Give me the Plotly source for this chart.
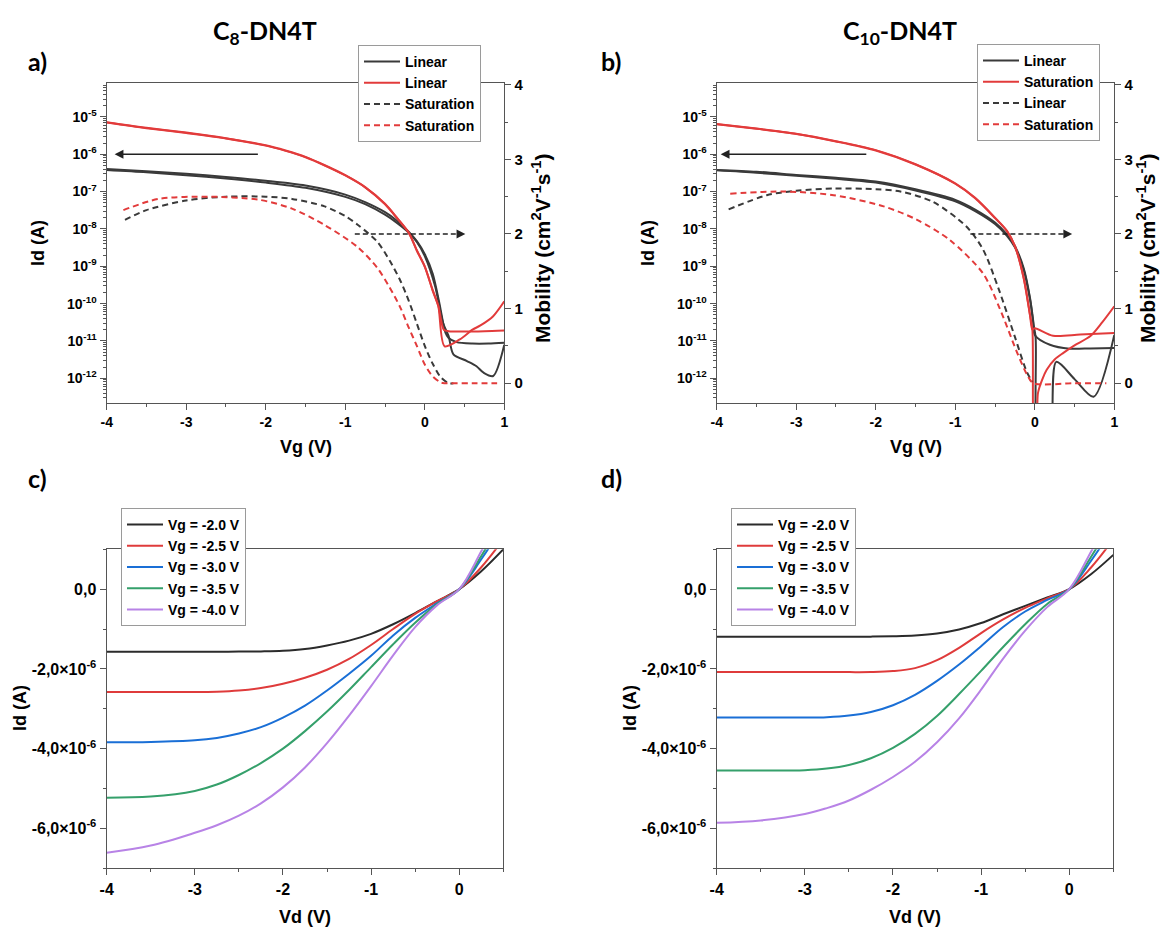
import plotly.graph_objects as go

W, H = 1162, 929
FONT = "Liberation Sans"
TITLE_FONT = "Lato"
AX = "#555555"
DARK = "#3a3a3a"
RED = "#e23b3b"

# ---------------- panel a (C8-DN4T), transfer curves ----------------
A_LIN1_VG = [-4, -3.5, -3, -2.5, -2, -1.5, -1, -0.75, -0.5, -0.35, -0.2, -0.1, 0, 0.1, 0.18, 0.26, 0.3, 0.4, 0.6, 0.8, 1.0]
A_LIN1_ID = [4.0e-7, 3.5e-7, 3.0e-7, 2.45e-7, 1.95e-7, 1.45e-7, 8.3e-8, 5.2e-8, 2.8e-8, 1.66e-8, 8.3e-9, 4.7e-9,
             2.1e-9, 6.3e-10, 1.12e-10, 1.66e-11, 1.2e-11, 9.3e-12, 8.5e-12, 8.5e-12, 8.9e-12]
A_LIN2_VG = [-4, -3.5, -3, -2.5, -2, -1.5, -1, -0.75, -0.5, -0.35, -0.2, -0.1, 0, 0.13, 0.23, 0.3, 0.36, 0.53, 0.65, 0.74, 0.86, 1.0]
A_LIN2_ID = [3.8e-7, 3.3e-7, 2.75e-7, 2.24e-7, 1.74e-7, 1.26e-7, 7.2e-8, 4.6e-8, 2.4e-8, 1.45e-8, 7.9e-9, 4.5e-9,
             1.86e-9, 2.9e-10, 3.0e-11, 1.35e-11, 4.4e-12, 2.9e-12, 2.1e-12, 1.41e-12, 1.15e-12, 7.9e-12]
A_SAT1_VG = [-4, -3.5, -3, -2.5, -2, -1.75, -1.5, -1.25, -1, -0.75, -0.5, -0.35, -0.2, -0.1, 0, 0.1, 0.17, 0.25,
             0.44, 0.6, 0.7, 0.86, 1.0]
A_SAT1_ID = [7.2e-6, 5.1e-6, 3.8e-6, 2.7e-6, 1.74e-6, 1.26e-6, 8.5e-7, 5.0e-7, 2.75e-7, 1.32e-7, 4.7e-8, 2.0e-8,
             7.9e-9, 2.7e-9, 1.0e-9, 2.2e-10, 8.5e-11, 7.2e-12, 1.1e-11, 2.0e-11, 2.6e-11, 4.6e-11, 1.15e-10]
A_SAT2_VG = [-4, -3.5, -3, -2.5, -2, -1.75, -1.5, -1.25, -1, -0.75, -0.5, -0.35, -0.2, -0.1, 0, 0.1, 0.17, 0.24,
             0.3, 0.5, 0.75, 1.0]
A_SAT2_ID = [7.1e-6, 5.0e-6, 3.7e-6, 2.65e-6, 1.7e-6, 1.23e-6, 8.3e-7, 4.9e-7, 2.7e-7, 1.3e-7, 4.6e-8, 1.95e-8,
             7.7e-9, 2.6e-9, 9.6e-10, 2.3e-10, 8.9e-11, 2.0e-11, 1.82e-11, 1.78e-11, 1.82e-11, 1.9e-11]
A_MU_LIN_VG = [-3.77, -3.5, -3.0, -2.5, -2.0, -1.67, -1.26, -1.0, -0.84, -0.6, -0.44, -0.31, -0.2, -0.1, 0.0, 0.1, 0.2, 0.3, 0.36]
A_MU_LIN = [2.19, 2.32, 2.45, 2.50, 2.50, 2.47, 2.37, 2.24, 2.12, 1.90, 1.64, 1.38, 1.10, 0.80, 0.50, 0.26, 0.08, 0.0, 0.0]
A_MU_SAT_VG = [-3.79, -3.35, -2.72, -2.09, -1.67, -1.26, -0.85, -0.6, -0.44, -0.31, -0.2, -0.1, 0.0, 0.1, 0.2, 0.25, 0.6, 0.91]
A_MU_SAT = [2.32, 2.47, 2.50, 2.46, 2.34, 2.12, 1.83, 1.55, 1.28, 1.02, 0.74, 0.50, 0.25, 0.09, 0.01, 0.0, 0.0, 0.0]

# ---------------- panel b (C10-DN4T), transfer curves ----------------
B_LIN1_VG = [-4, -3.5, -3, -2.5, -2, -1.5, -1, -0.75, -0.5, -0.35, -0.25, -0.14, -0.06, -0.02, 0.0, 0.19, 0.44, 0.7, 1.0]
B_LIN1_ID = [3.8e-7, 3.4e-7, 2.8e-7, 2.35e-7, 1.86e-7, 1.15e-7, 6.0e-8, 3.3e-8, 1.48e-8, 7.1e-9, 3.5e-9, 8.9e-10,
             1.41e-10, 3.5e-11, 1.45e-11, 7.9e-12, 6.2e-12, 6.3e-12, 6.5e-12]
B_LIN2_VG = [-4, -3.5, -3, -2.5, -2, -1.5, -1, -0.75, -0.5, -0.35, -0.25, -0.14, -0.06, -0.02, 0.01, 0.06, 0.18, 0.27, 0.5, 0.74, 1.0]
B_LIN2_ID = [3.7e-7, 3.2e-7, 2.65e-7, 2.2e-7, 1.74e-7, 1.07e-7, 5.5e-8, 3.0e-8, 1.35e-8, 6.5e-9, 3.2e-9, 8.1e-10,
             1.3e-10, 3.2e-11, 1.26e-11, 1e-14, 1e-14, 2.75e-12, 9.5e-13, 3.2e-13, 1.45e-11]
B_SAT1_VG = [-4, -3.5, -3, -2.5, -2, -1.5, -1, -0.75, -0.5, -0.35, -0.25, -0.14, -0.06, -0.03, 0.0, 0.02, 0.04,
             0.1, 0.15, 0.25, 0.36, 0.5, 0.7, 0.85, 1.0]
B_SAT1_ID = [6.5e-6, 4.9e-6, 3.55e-6, 2.24e-6, 1.29e-6, 5.4e-7, 1.66e-7, 6.8e-8, 2.0e-8, 8.9e-9, 3.5e-9, 5.0e-10,
             5.0e-11, 2.0e-11, 1e-14, 1e-14, 4.0e-13, 1.0e-12, 1.7e-12, 3.2e-12, 4.8e-12, 7.6e-12, 1.35e-11,
             3.2e-11, 8.5e-11]
B_SAT2_VG = [-4, -3.5, -3, -2.5, -2, -1.5, -1, -0.75, -0.5, -0.35, -0.25, -0.14, -0.06, -0.03, 0.0, 0.23, 0.57, 1.0]
B_SAT2_ID = [6.4e-6, 4.8e-6, 3.5e-6, 2.2e-6, 1.26e-6, 5.3e-7, 1.62e-7, 6.6e-8, 1.95e-8, 8.7e-9, 3.4e-9, 4.8e-10,
             4.8e-11, 2.0e-11, 2.2e-11, 1.38e-11, 1.48e-11, 1.62e-11]
B_MU_LIN_VG = [-3.85, -3.37, -3.0, -2.53, -2.0, -1.69, -1.28, -0.86, -0.65, -0.45, -0.25, -0.1, -0.03]
B_MU_LIN = [2.33, 2.52, 2.58, 2.61, 2.60, 2.57, 2.43, 2.10, 1.79, 1.25, 0.62, 0.15, 0.02]
B_MU_SAT_VG = [-3.83, -3.16, -2.53, -1.9, -1.48, -1.07, -0.65, -0.44, -0.23, -0.1, -0.02, 0.5, 0.9]
B_MU_SAT = [2.54, 2.57, 2.52, 2.37, 2.19, 1.92, 1.47, 1.0, 0.43, 0.12, 0.0, 0.0, 0.0]

# ---------------- panels c / d, output curves (Id in units of 1e-6 A) ----------------
VD = [-4, -3.5, -3, -2.75, -2.5, -2.25, -2, -1.75, -1.5, -1.25, -1, -0.75, -0.5, -0.25, 0, 0.25, 0.5]
VG_LABELS = ["Vg = -2.0 V", "Vg = -2.5 V", "Vg = -3.0 V", "Vg = -3.5 V", "Vg = -4.0 V"]
C_ID_UA = [
    [-1.57, -1.57, -1.57, -1.57, -1.565, -1.56, -1.545, -1.50, -1.41, -1.29, -1.12, -0.88, -0.60, -0.30, 0, 0.45, 1.0],
    [-2.58, -2.58, -2.58, -2.57, -2.54, -2.48, -2.37, -2.22, -2.02, -1.75, -1.40, -1.00, -0.62, -0.30, 0, 0.55, 1.25],
    [-3.84, -3.83, -3.79, -3.73, -3.62, -3.46, -3.22, -2.92, -2.54, -2.12, -1.67, -1.16, -0.72, -0.35, 0, 0.75, 1.6],
    [-5.23, -5.20, -5.06, -4.90, -4.66, -4.36, -4.00, -3.56, -3.07, -2.53, -1.955, -1.38, -0.84, -0.375, 0, 0.83, 1.8],
    [-6.61, -6.43, -6.11, -5.92, -5.68, -5.37, -4.97, -4.47, -3.86, -3.17, -2.43, -1.66, -0.95, -0.40, 0, 0.95, 2.0],
]
D_ID_UA = [
    [-1.19, -1.19, -1.19, -1.19, -1.19, -1.19, -1.18, -1.16, -1.11, -1.01, -0.85, -0.63, -0.42, -0.21, 0, 0.38, 0.86],
    [-2.08, -2.08, -2.08, -2.08, -2.08, -2.078, -2.055, -1.98, -1.78, -1.47, -1.10, -0.76, -0.47, -0.23, 0, 0.55, 1.25],
    [-3.22, -3.22, -3.22, -3.21, -3.17, -3.08, -2.91, -2.65, -2.30, -1.89, -1.43, -0.95, -0.56, -0.27, 0, 0.72, 1.55],
    [-4.55, -4.55, -4.54, -4.50, -4.41, -4.24, -3.98, -3.63, -3.18, -2.63, -2.05, -1.45, -0.88, -0.37, 0, 0.82, 1.75],
    [-5.86, -5.80, -5.64, -5.49, -5.30, -5.03, -4.71, -4.33, -3.84, -3.24, -2.52, -1.74, -1.04, -0.45, 0, 0.95, 2.0],
]
VG_COLORS = ["#2b2b2b", "#df3b3b", "#1a6fd6", "#35a06b", "#b883e6"]

LOG_TICKS = [10.0 ** e for e in range(-12, -4)]
LOG_TEXT = ["10<sup>%d</sup>" % e for e in range(-12, -4)]
LOG_MINOR = [k * 10.0 ** e for e in range(-13, -4) for k in range(2, 10)]
VG_TICKS = [-4, -3, -2, -1, 0, 1]
VD_TICKS = [-4, -3, -2, -1, 0]
ID_TICKS = [0, -2e-6, -4e-6, -6e-6]
ID_TEXT = ["0,0", "-2,0×10<sup>-6</sup>", "-4,0×10<sup>-6</sup>", "-6,0×10<sup>-6</sup>"]


def px_x(v):
    return v / W


def px_y(v):
    return 1 - v / H


fig = go.Figure()


def line(x, y, xa, ya, color, dash="solid", name=None, legend="legend", rank=1000, smooth=0.8):
    fig.add_trace(go.Scatter(
        x=x, y=y, xaxis=xa, yaxis=ya, mode="lines", name=name,
        showlegend=name is not None, legend=legend, legendrank=rank,
        line=dict(color=color, width=2, dash=dash, shape="spline", smoothing=smooth),
        hoverinfo="x+y",
    ))


DASH = "6px,4px"
# panel a
line(A_LIN1_VG, A_LIN1_ID, "x", "y", DARK, name="Linear", legend="legend", rank=1)
line(A_LIN2_VG, A_LIN2_ID, "x", "y", DARK)
line(A_SAT1_VG, A_SAT1_ID, "x", "y", RED, name="Linear", legend="legend", rank=2)
line(A_SAT2_VG, A_SAT2_ID, "x", "y", RED)
line(A_MU_LIN_VG, A_MU_LIN, "x", "y2", DARK, DASH, name="Saturation", legend="legend", rank=3)
line(A_MU_SAT_VG, A_MU_SAT, "x", "y2", RED, DASH, name="Saturation", legend="legend", rank=4)
# panel b
line(B_LIN1_VG, B_LIN1_ID, "x2", "y3", DARK, name="Linear", legend="legend2", rank=1)
line(B_LIN2_VG, B_LIN2_ID, "x2", "y3", DARK)
line(B_SAT1_VG, B_SAT1_ID, "x2", "y3", RED, name="Saturation", legend="legend2", rank=2)
line(B_SAT2_VG, B_SAT2_ID, "x2", "y3", RED)
line(B_MU_LIN_VG, B_MU_LIN, "x2", "y4", DARK, DASH, name="Linear", legend="legend2", rank=3)
line(B_MU_SAT_VG, B_MU_SAT, "x2", "y4", RED, DASH, name="Saturation", legend="legend2", rank=4)
# panels c, d
for i, lab in enumerate(VG_LABELS):
    line(VD, [v * 1e-6 for v in C_ID_UA[i]], "x3", "y5", VG_COLORS[i], name=lab, legend="legend3",
         rank=i + 1, smooth=1.0)
    line(VD, [v * 1e-6 for v in D_ID_UA[i]], "x4", "y6", VG_COLORS[i], name=lab, legend="legend4",
         rank=i + 1, smooth=1.0)

tick_font = dict(family=FONT, size=14, color="black", weight="bold")
base = dict(showline=True, linecolor=AX, linewidth=1.3, ticks="outside", ticklen=6, tickwidth=1.3,
            tickcolor=AX, showgrid=False, zeroline=False, automargin=False, tickfont=tick_font)


def minor(step=None, vals=None, side="outside"):
    m = dict(ticks=side, ticklen=3, tickcolor=AX, tickwidth=1.1, showgrid=False)
    if vals is not None:
        m.update(tickmode="array", tickvals=vals)
    else:
        m.update(dtick=step)
    return m


top_y = [px_y(403.3), px_y(83.3)]
bot_y = [px_y(868.3), px_y(549.3)]

log_axis = dict(base, type="log", range=[-12.67, -4.10], tickmode="array", tickvals=LOG_TICKS,
                ticktext=LOG_TEXT, mirror=True, minor=minor(vals=LOG_MINOR))
mu_axis = dict(base, range=[-0.27, 4.02], tick0=0, dtick=1, side="right", minor=minor(0.5),
               tickfont=dict(tick_font, size=15))
vg_axis = dict(base, range=[-4, 1], tickmode="array", tickvals=VG_TICKS, ticktext=[str(v) for v in VG_TICKS],
               mirror=True, minor=minor(0.5))
vd_axis = dict(base, range=[-4, 0.5], tickmode="array", tickvals=VD_TICKS, ticktext=[str(v) for v in VD_TICKS],
               mirror=True, minor=minor(0.5), tickfont=dict(tick_font, size=16))
id_axis = dict(base, range=[-7e-6, 1e-6], tickmode="array", tickvals=ID_TICKS, ticktext=ID_TEXT,
               mirror=True, tickfont=dict(tick_font, size=16), minor=minor(1e-6))
# inward ticks on the top / right frame edges
inner = dict(showline=False, showgrid=False, zeroline=False, automargin=False, showticklabels=False,
             ticks="inside", ticklen=6, tickwidth=1.3, tickcolor=AX)
top_vg = dict(inner, range=[-4, 1], tickmode="array", tickvals=VG_TICKS, side="top", minor=minor(0.5, side="inside"))
top_vd = dict(inner, range=[-4, 0.5], tickmode="array", tickvals=VD_TICKS, side="top", minor=minor(0.5, side="inside"))
right_id = dict(inner, range=[-7e-6, 1e-6], tickmode="array", tickvals=ID_TICKS, side="right",
                minor=minor(1e-6, side="inside"))

leg = dict(bgcolor="white", bordercolor="#9a9a9a", borderwidth=1, xanchor="left", yanchor="top",
           font=dict(family=FONT, size=14, color="black", weight="bold"), itemwidth=36,
           tracegroupgap=0, traceorder="normal")

fig.update_layout(
    width=W, height=H, margin=dict(l=0, r=0, t=0, b=0),
    paper_bgcolor="white", plot_bgcolor="white", showlegend=True,
    xaxis=dict(vg_axis, domain=[px_x(106.7), px_x(504.3)], anchor="y"),
    yaxis=dict(log_axis, domain=top_y, anchor="x"),
    yaxis2=dict(mu_axis, domain=top_y, anchor="x", overlaying="y"),
    xaxis2=dict(vg_axis, domain=[px_x(716.7), px_x(1114.3)], anchor="y3"),
    yaxis3=dict(log_axis, domain=top_y, anchor="x2"),
    yaxis4=dict(mu_axis, domain=top_y, anchor="x2", overlaying="y3"),
    xaxis3=dict(vd_axis, domain=[px_x(106.7), px_x(503.3)], anchor="y5"),
    yaxis5=dict(id_axis, domain=bot_y, anchor="x3"),
    xaxis4=dict(vd_axis, domain=[px_x(716.7), px_x(1113.3)], anchor="y6"),
    yaxis6=dict(id_axis, domain=bot_y, anchor="x4"),
    xaxis5=dict(top_vg, overlaying="x", anchor="y"),
    xaxis6=dict(top_vg, overlaying="x2", anchor="y3"),
    xaxis7=dict(top_vd, overlaying="x3", anchor="y5"),
    xaxis8=dict(top_vd, overlaying="x4", anchor="y6"),
    yaxis7=dict(right_id, overlaying="y5", anchor="x3"),
    yaxis8=dict(right_id, overlaying="y6", anchor="x4"),
    legend=dict(leg, x=px_x(358), y=px_y(45)),
    legend2=dict(leg, x=px_x(977), y=px_y(44)),
    legend3=dict(leg, x=px_x(121), y=px_y(508)),
    legend4=dict(leg, x=px_x(731), y=px_y(508)),
)

ann = []


def text(s, x, y, size, family=FONT, angle=0):
    ann.append(dict(text=s, x=px_x(x), y=px_y(y), xref="paper", yref="paper", showarrow=False,
                    textangle=angle, xanchor="center", yanchor="middle",
                    font=dict(family=family, size=size, color="black", weight="bold")))


text("C<sub>8</sub>-DN4T", 265, 32, 25, TITLE_FONT)
text("C<sub>10</sub>-DN4T", 900, 32, 25, TITLE_FONT)
for lab, x, y in [("a)", 37, 61), ("b)", 611, 61), ("c)", 37, 478), ("d)", 611, 478)]:
    text(lab, x, y, 25, TITLE_FONT)
for off in (0, 610):
    text("Vg (V)", 305.5 + off, 447, 18)
    text("Id (A)", 38 + off, 243, 18, angle=-90)
    text("Vd (V)", 305 + off, 917, 18)
    text("Id (A)", 20 + off, 708, 18, angle=-90)
MOB = "Mobility (cm<sup>2</sup>V<sup>-1</sup>s<sup>-1</sup>)"
text(MOB, 541, 248, 21, angle=-90)
text(MOB, 1146, 248, 21, angle=-90)

# arrows pointing at the axis each family of curves belongs to
for xa, ya, ya2, x0, x1, d0, d1 in [("x", "y", "y2", -2.08, -3.9, -0.88, 0.51),
                                     ("x2", "y3", "y4", -2.1, -3.95, -0.81, 0.47)]:
    ann.append(dict(x=x1, y=-6, ax=x0, ay=-6, xref=xa, yref=ya, axref=xa, ayref=ya, text="",
                    showarrow=True, arrowhead=2, arrowsize=1.1, arrowwidth=1.6, arrowcolor="#222"))
    ann.append(dict(x=d1, y=2, ax=-10, ay=0, xref=xa, yref=ya2, text="",
                    showarrow=True, arrowhead=2, arrowsize=1.1, arrowwidth=1.6, arrowcolor="#222"))
    fig.add_shape(type="line", xref=xa, yref=ya2, x0=d0, x1=d1 - 0.1, y0=2, y1=2,
                  line=dict(color="#222", width=1.6, dash="5px,3px"))

fig.update_layout(annotations=ann)
fig.write_html("out.html", config={"displayModeBar": False},
               post_script="document.body.style.margin='0';document.body.style.overflow='hidden';")
